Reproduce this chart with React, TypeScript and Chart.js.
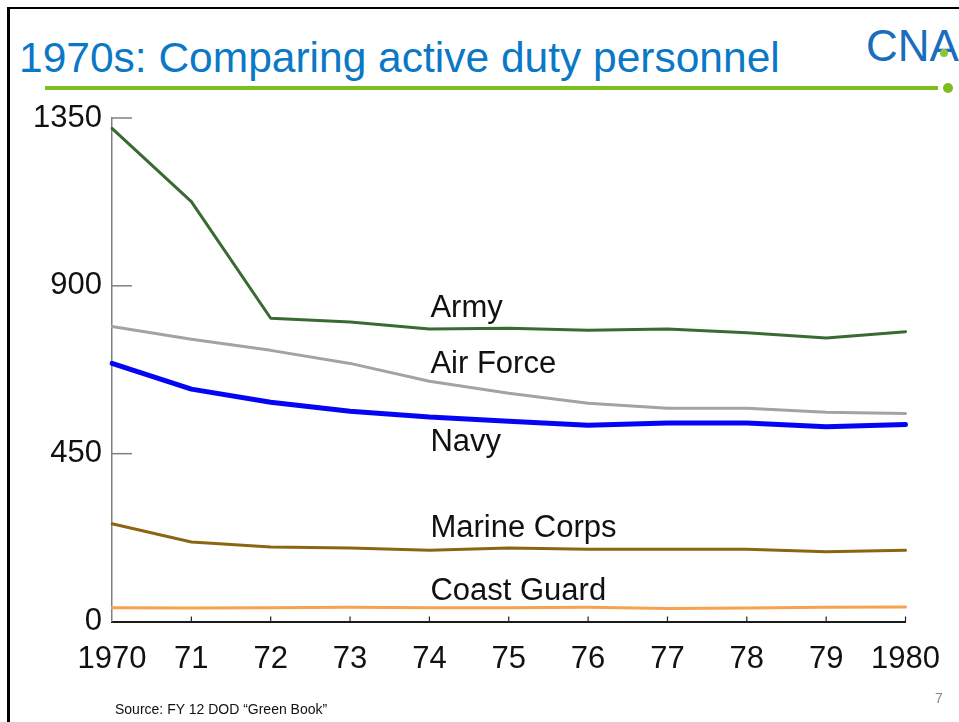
import React, { useEffect, useRef } from 'react';
import { Chart, registerables } from 'chart.js';

Chart.register(...registerables);

// ---- data (thousands of active duty personnel) ----
const years = ['1970', '71', '72', '73', '74', '75', '76', '77', '78', '79', '1980'];
const army = [1322, 1126, 813, 803, 784, 786, 781, 784, 774, 760, 777];
const airForce = [791, 757, 727, 692, 644, 612, 585, 572, 572, 561, 558];
const navy = [692, 623, 588, 564, 548, 537, 526, 532, 532, 522, 528];
const marines = [262, 213, 200, 197, 191, 197, 194, 194, 194, 187, 191];
const coastGuard = [37, 36, 37, 38, 37, 37, 38, 35, 36, 38, 39];
const seriesNames = ['Army', 'Air Force', 'Navy', 'Marine Corps', 'Coast Guard'];
const yTicks = [0, 450, 900, 1350];

// inline label anchors (category index, value)
const labelAnchorIndex = 4;
const labelAnchorValues = [816, 666, 458, 226, 58];

const FONT = '"Liberation Sans", Arial, Helvetica, sans-serif';

const decorPlugin = {
  id: 'decor',
  afterDatasetsDraw(chart: any) {
    const { ctx, chartArea } = chart;
    const x = chart.scales.x;
    const y = chart.scales.y;
    ctx.save();
    // inward y ticks
    ctx.strokeStyle = '#808080';
    ctx.lineWidth = 1.5;
    yTicks.forEach((v) => {
      if (v === 0) return;
      const py = y.getPixelForValue(v);
      ctx.beginPath();
      ctx.moveTo(chartArea.left, py);
      ctx.lineTo(chartArea.left + 20, py);
      ctx.stroke();
    });
    // upward x ticks
    ctx.strokeStyle = '#222';
    ctx.lineWidth = 1.2;
    years.forEach((_, i) => {
      if (i === 0) return;
      const px = x.getPixelForValue(i);
      ctx.beginPath();
      ctx.moveTo(px, chartArea.bottom);
      ctx.lineTo(px, chartArea.bottom - 5);
      ctx.stroke();
    });
    // inline series labels
    ctx.fillStyle = '#111';
    ctx.font = `31px ${FONT}`;
    ctx.textAlign = 'left';
    ctx.textBaseline = 'alphabetic';
    seriesNames.forEach((n, i) => {
      ctx.fillText(n, x.getPixelForValue(labelAnchorIndex) + 1, y.getPixelForValue(labelAnchorValues[i]));
    });
    ctx.restore();
  },
};

function LineChart() {
  const ref = useRef<HTMLCanvasElement | null>(null);
  useEffect(() => {
    if (!ref.current) return;
    Chart.defaults.font.family = FONT;
    const mk = (label: string, data: number[], color: string, width: number) => ({
      label,
      data,
      borderColor: color,
      backgroundColor: color,
      borderWidth: width,
      pointRadius: 0,
      tension: 0,
      borderJoinStyle: 'round' as const,
      borderCapStyle: 'round' as const,
      fill: false,
    });
    const chart = new Chart(ref.current, {
      type: 'line',
      data: {
        labels: years,
        datasets: [
          mk('Coast Guard', coastGuard, '#f7a24e', 3),
          mk('Marine Corps', marines, '#8c6512', 3),
          mk('Air Force', airForce, '#a3a3a3', 3),
          mk('Army', army, '#386a32', 3),
          mk('Navy', navy, '#0505f5', 5),
        ],
      },
      options: {
        animation: false,
        responsive: false,
        maintainAspectRatio: false,
        layout: { padding: { left: 12, right: 52, top: 118, bottom: 40.5 } },
        plugins: { legend: { display: false }, tooltip: { enabled: false } },
        scales: {
          x: {
            type: 'category',
            offset: false,
            grid: { display: false, drawTicks: false },
            border: { display: true, color: '#1a1a1a', width: 2 },
            ticks: { color: '#111', font: { size: 31 }, padding: 19, maxRotation: 0, autoSkip: false },
            afterFit: (s: any) => { s.height = 60; },
          },
          y: {
            min: 0,
            max: 1350,
            grid: { display: false, drawTicks: false },
            border: { display: true, color: '#808080', width: 1.5 },
            ticks: {
              stepSize: 450,
              color: '#111',
              font: { size: 31 },
              padding: 10,
              callback: (v: any) => String(v),
            },
            afterFit: (s: any) => { s.width = 100; },
          },
        },
      },
      plugins: [decorPlugin],
    });
    return () => chart.destroy();
  }, []);
  return (
    <canvas
      ref={ref}
      width={959}
      height={722}
      style={{ position: 'absolute', left: 0, top: 0, width: 959, height: 722 }}
    />
  );
}

export default function App() {
  return (
    <div
      style={{
        position: 'fixed',
        left: 0,
        top: 0,
        width: 959,
        height: 722,
        overflow: 'hidden',
        background: '#fff',
        fontFamily: FONT,
      }}
    >
      {/* slide frame */}
      <div
        style={{
          position: 'absolute',
          left: 7,
          top: 7,
          right: -10,
          bottom: -10,
          borderTop: '2.5px solid #000',
          borderLeft: '3px solid #000',
        }}
      />
      {/* title */}
      <div
        style={{
          position: 'absolute',
          left: 19,
          top: 37,
          fontSize: 42.5,
          lineHeight: '42px',
          color: '#0a78c6',
          whiteSpace: 'nowrap',
        }}
      >
        1970s: Comparing active duty personnel
      </div>
      {/* logo */}
      <div
        style={{
          position: 'absolute',
          left: 866,
          top: 24,
          fontSize: 44,
          lineHeight: '44px',
          color: '#1a6dbd',
          whiteSpace: 'nowrap',
        }}
      >
        CNA
      </div>
      <div
        style={{
          position: 'absolute',
          left: 940,
          top: 49,
          width: 8,
          height: 8,
          borderRadius: '50%',
          background: '#8cc63e',
        }}
      />
      {/* green rule */}
      <div style={{ position: 'absolute', left: 45, top: 86, width: 893, height: 4, background: '#7dbe1f' }} />
      <div
        style={{
          position: 'absolute',
          left: 943,
          top: 83,
          width: 10,
          height: 10,
          borderRadius: '50%',
          background: '#7dbe1f',
        }}
      />
      <LineChart />
      {/* source */}
      <div
        style={{
          position: 'absolute',
          left: 115,
          top: 702,
          fontSize: 14,
          lineHeight: '14px',
          color: '#111',
          whiteSpace: 'nowrap',
        }}
      >
        Source: FY 12 DOD “Green Book”
      </div>
      <div
        style={{
          position: 'absolute',
          left: 935,
          top: 691,
          fontSize: 14,
          lineHeight: '14px',
          color: '#888',
        }}
      >
        7
      </div>
    </div>
  );
}
